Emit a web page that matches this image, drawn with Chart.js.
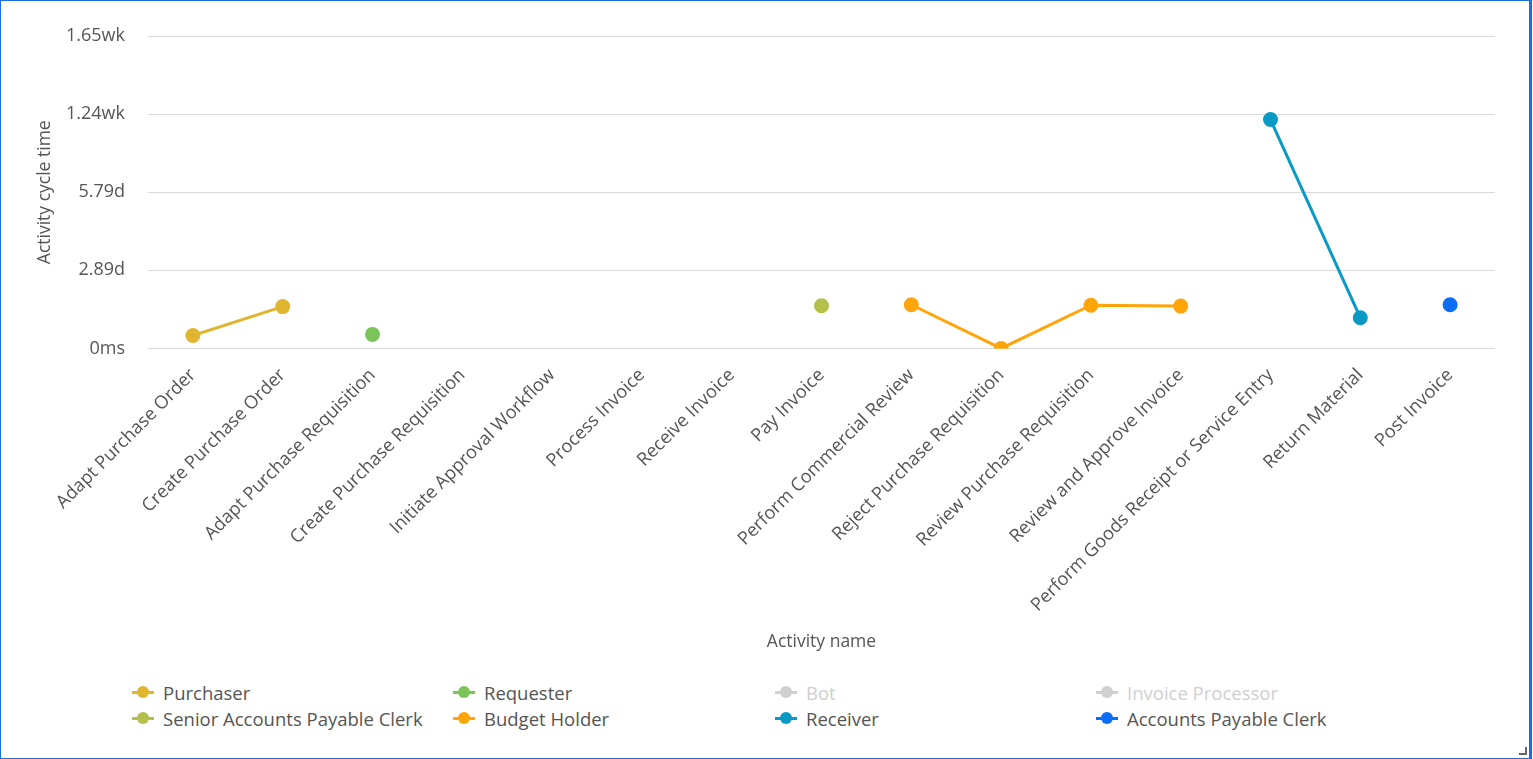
<!DOCTYPE html>
<html>
<head>
<meta charset="utf-8">
<script src="https://cdn.jsdelivr.net/npm/chart.js@4.4.1/dist/chart.umd.min.js"></script>
<style>
  html, body { margin: 0; padding: 0; background: #fff; }
  body { width: 1533px; height: 759px; overflow: hidden; position: relative; font-family: "Open Sans", sans-serif; }
  #frame { position: absolute; left: 0; top: 0; width: 1528px; height: 757px; border: 1px solid #1a6fe0; border-right: 3px solid #1a6fe0; box-sizing: content-box; pointer-events: none; }
  #wrap { position: absolute; left: 0; top: 0; width: 1533px; height: 665px; }
  #legend { position: absolute; left: 132px; top: 681px; width: 1300px; display: grid; grid-template-columns: 321px 322px 321px 321px; row-gap: 4px; }
  .item { display: flex; align-items: center; height: 22px; font-size: 18.5px; color: #555; white-space: nowrap; }
  .mk { position: relative; width: 22px; height: 12px; margin-right: 9px; flex: none; }
  .mk .ln { position: absolute; left: 0; top: 5px; width: 22px; height: 3px; }
  .mk .dt { position: absolute; left: 5px; top: 0; width: 12px; height: 12px; border-radius: 50%; }
  #grip { position: absolute; right: 6px; bottom: 4px; width: 6px; height: 6px; border-right: 2px solid #666; border-bottom: 2px solid #666; }
</style>
</head>
<body>
<div id="wrap"><canvas id="c" width="1533" height="665"></canvas></div>
<div id="legend"></div>
<div id="frame"></div>
<div id="grip"></div>
<script>
// ---- data (values in days) ----
const categories = [
  "Adapt Purchase Order", "Create Purchase Order", "Adapt Purchase Requisition",
  "Create Purchase Requisition", "Initiate Approval Workflow", "Process Invoice",
  "Receive Invoice", "Pay Invoice", "Perform Commercial Review",
  "Reject Purchase Requisition", "Review Purchase Requisition",
  "Review and Approve Invoice", "Perform Goods Receipt or Service Entry",
  "Return Material", "Post Invoice"
];
const seriesNames = ["Purchaser", "Requester", "Bot", "Invoice Processor",
  "Senior Accounts Payable Clerk", "Budget Holder", "Receiver", "Accounts Payable Clerk"];
const purchaser      = [0.48, 1.55, null, null, null, null, null, null, null, null, null, null, null, null, null];
const requester      = [null, null, 0.52, null, null, null, null, null, null, null, null, null, null, null, null];
const bot            = [null, null, null, null, null, null, null, null, null, null, null, null, null, null, null];
const invoiceProc    = [null, null, null, null, null, null, null, null, null, null, null, null, null, null, null];
const seniorApClerk  = [null, null, null, null, null, null, null, 1.58, null, null, null, null, null, null, null];
const budgetHolder   = [null, null, null, null, null, null, null, null, 1.62, 0, 1.60, 1.57, null, null, null];
const receiver       = [null, null, null, null, null, null, null, null, null, null, null, null, 8.48, 1.14, null];
const apClerk        = [null, null, null, null, null, null, null, null, null, null, null, null, null, null, 1.62];
const seriesValues = [purchaser, requester, bot, invoiceProc, seniorApClerk, budgetHolder, receiver, apClerk];
const seriesColors = ["#e0b52f", "#7cc35a", "#d0d0d0", "#d0d0d0", "#b5c04a", "#ffa50a", "#0899c4", "#0a6ef5"];
const seriesDimmed = [false, false, true, true, false, false, false, false];
const yTickValues = [0, 2.8935, 5.787, 8.6806, 11.574];
const yTickLabels = ["0ms", "2.89d", "5.79d", "1.24wk", "1.65wk"];

const FONT = '"Open Sans", sans-serif';
Chart.defaults.font.family = FONT;
Chart.defaults.color = '#555';

const datasets = seriesNames.map((name, i) => ({
  label: name,
  data: seriesValues[i],
  borderColor: seriesColors[i],
  backgroundColor: seriesColors[i],
  pointBackgroundColor: seriesColors[i],
  pointBorderColor: seriesColors[i],
  pointRadius: 6,
  pointHoverRadius: 6,
  borderWidth: 3,
  spanGaps: false,
  tension: 0
}));

new Chart(document.getElementById('c'), {
  type: 'line',
  data: { labels: categories, datasets },
  options: {
    responsive: false,
    animation: false,
    layout: { padding: { left: 22, right: 38, top: 36, bottom: 12 } },
    plugins: { legend: { display: false }, tooltip: { enabled: false } },
    scales: {
      x: {
        offset: true,
        afterFit: (s) => { s.paddingLeft = 0; s.paddingRight = 0; },
        grid: { display: false },
        border: { display: false },
        ticks: { maxRotation: 45, minRotation: 45, autoSkip: false, font: { size: 18.2 }, color: '#555', padding: 8 },
        title: { display: true, text: 'Activity name', font: { size: 17.5 }, color: '#555', padding: { top: 8, bottom: 0 } }
      },
      y: {
        min: 0,
        max: yTickValues[yTickValues.length - 1],
        afterBuildTicks: (axis) => { axis.ticks = yTickValues.map(v => ({ value: v })); },
        afterFit: (s) => { s.width = 126; s.paddingTop = 0; s.paddingBottom = 0; },
        grid: { color: '#d9d9d9', lineWidth: 1, drawTicks: false },
        border: { display: false },
        ticks: {
          font: { size: 18 }, color: '#555', padding: 23,
          callback: (v, idx) => yTickLabels[idx]
        },
        title: { display: true, text: 'Activity cycle time', font: { size: 17.5 }, color: '#555', padding: { top: 13, bottom: 0 } }
      }
    }
  }
});

// HTML legend
const lg = document.getElementById('legend');
seriesNames.forEach((name, i) => {
  const d = document.createElement('div');
  d.className = 'item';
  const c = seriesColors[i];
  d.innerHTML = '<span class="mk"><span class="ln" style="background:' + c + '"></span><span class="dt" style="background:' + c + '"></span></span>' +
    '<span style="color:' + (seriesDimmed[i] ? '#cfcfcf' : '#555') + '">' + name + '</span>';
  lg.appendChild(d);
});
</script>
</body>
</html>
